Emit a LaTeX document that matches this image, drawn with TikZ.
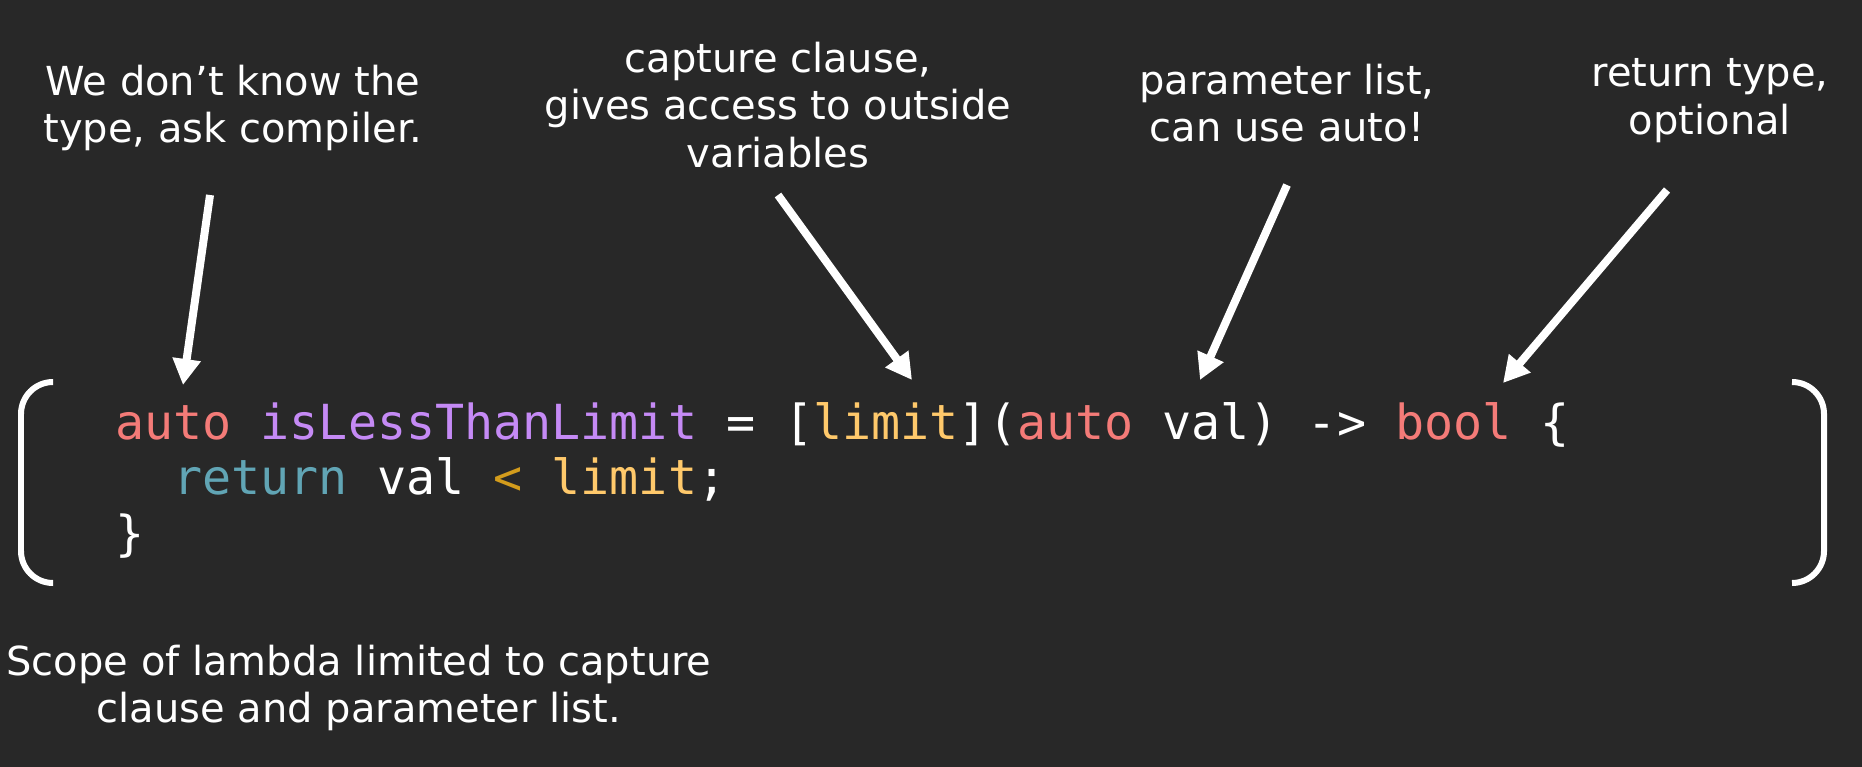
\documentclass[tikz,border=0pt]{standalone}
\usepackage{fontspec}
\setmainfont{DejaVu Sans}
\newfontfamily\codefont{DejaVu Sans Mono}
\usetikzlibrary{arrows.meta}
\definecolor{bg}{HTML}{282828}
\definecolor{kw}{HTML}{F47B78}
\definecolor{fn}{HTML}{C58AF5}
\definecolor{cap}{HTML}{FFC96B}
\definecolor{ret}{HTML}{61A5B5}
\definecolor{op}{HTML}{D39C1C}
\tikzset{
  annot/.style={text=white, inner sep=0pt, anchor=base, font=\fontsize{22.76}{27.31}\selectfont},
  codeline/.style={text=white, inner sep=0pt, anchor=base west, font=\codefont\fontsize{27.5}{32}\selectfont},
  ptr/.style={draw=white, line width=0.16cm, -{Triangle[length=0.52cm,width=0.54cm]}},
  scopebrk/.style={draw=white, line width=0.12cm, rounded corners=0.64cm},
}
\begin{document}
\begin{tikzpicture}[x=0.02cm,y=-0.02cm]
\fill[bg] (0,0) rectangle (1862,767);
\useasboundingbox (0,0) rectangle (1862,767);

% annotations
\node[annot] (l1) at (233,95) {\begin{tabular}[t]{@{}c@{}}We don’t know the\\type, ask compiler.\end{tabular}};
\node[annot] (l2) at (778,72) {\begin{tabular}[t]{@{}c@{}}capture clause,\\gives access to outside\\variables\end{tabular}};
\node[annot] (l3) at (1287,94) {\begin{tabular}[t]{@{}c@{}}parameter list,\\can use auto!\end{tabular}};
\node[annot] (l4) at (1710,87) {\begin{tabular}[t]{@{}c@{}}return type,\\optional\end{tabular}};
\node[annot] (l5) at (359,675) {\begin{tabular}[t]{@{}c@{}}Scope of lambda limited to capture\\clause and parameter list.\end{tabular}};

% code
\node[codeline] (c1) at (115,439) {\color{kw}auto \color{fn}isLessThanLimit \color{white}= [\color{cap}limit\color{white}](\color{kw}auto \color{white}val) -> \color{kw}bool \color{white}\{};
\node[codeline] (c2) at (115,494) {\phantom{xx}\color{ret}return \color{white}val \color{op}< \color{cap}limit\color{white};};
\node[codeline] (c3) at (115,550) {\}};

% scope brackets
\coordinate (bl1) at (53,382);
\coordinate (bl2) at (53,583);
\coordinate (br1) at (1792,382);
\coordinate (br2) at (1792,583);
\draw[scopebrk] (bl1) -- (21,382) -- (21,583) -- (bl2);
\draw[scopebrk] (br1) -- (1824,382) -- (1824,583) -- (br2);

% arrows
\coordinate (a1s) at (210,195);
\coordinate (a1e) at (183,385);
\coordinate (a2s) at (778,195);
\coordinate (a2e) at (912,380);
\coordinate (a3s) at (1287,185);
\coordinate (a3e) at (1200,380);
\coordinate (a4s) at (1667,190);
\coordinate (a4e) at (1503,383);
\draw[ptr] (a1s) -- (a1e);
\draw[ptr] (a2s) -- (a2e);
\draw[ptr] (a3s) -- (a3e);
\draw[ptr] (a4s) -- (a4e);
\end{tikzpicture}
\end{document}
